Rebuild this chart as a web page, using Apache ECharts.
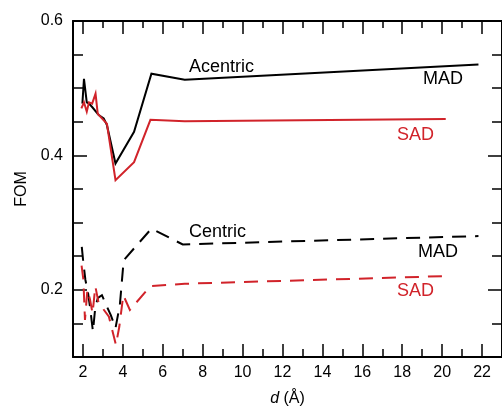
<!DOCTYPE html>
<html>
<head>
<meta charset="utf-8">
<script src="https://cdn.jsdelivr.net/npm/echarts@6/dist/echarts.min.js"></script>
<style>html,body{margin:0;padding:0;background:#fff;}#c{width:502px;height:412px;}</style>
</head>
<body>
<div id="c"></div>
<script>
// ---- data ----
const xMajorTicks = [2, 4, 6, 8, 10, 12, 14, 16, 18, 20, 22];
const xMinorTicks = [3, 5, 7, 9, 11, 13, 15, 17, 19, 21, 23];
const yMajorTicks = [0.2, 0.4, 0.6];
const yMinorTicks = [0.1, 0.15, 0.25, 0.3, 0.35, 0.45, 0.5, 0.55];

const acentricMAD = [[1.97,0.477],[2.05,0.514],[2.19,0.479],[2.30,0.477],[2.46,0.472],[2.79,0.460],[3.04,0.455],[3.20,0.445],[3.63,0.388],[4.56,0.435],[5.43,0.5215],[7.10,0.5126],[21.82,0.5354]];
const acentricSAD = [[1.92,0.470],[2.05,0.479],[2.19,0.465],[2.30,0.479],[2.46,0.477],[2.63,0.492],[2.74,0.462],[2.95,0.455],[3.20,0.447],[3.63,0.363],[4.56,0.390],[5.38,0.453],[7.10,0.451],[20.18,0.454]];
const centricMAD = [[1.94,0.264],[2.02,0.240],[2.12,0.215],[2.25,0.196],[2.35,0.175],[2.50,0.138],[2.62,0.175],[2.75,0.188],[2.95,0.192],[3.15,0.178],[3.40,0.162],[3.63,0.143],[3.85,0.178],[4.04,0.244],[5.43,0.291],[7.00,0.2675],[21.82,0.280]];
const centricSAD = [[1.93,0.236],[2.02,0.215],[2.10,0.155],[2.22,0.200],[2.35,0.186],[2.48,0.165],[2.62,0.205],[2.80,0.178],[3.00,0.172],[3.30,0.160],[3.65,0.118],[3.82,0.145],[4.02,0.192],[4.35,0.170],[5.38,0.2055],[7.10,0.209],[20.18,0.2204]];

const xAxisName = 'd';
const yAxisName = 'FOM';

// ---- chart ----
const FONT = 'Liberation Sans, Arial, Helvetica, sans-serif';
const RED = '#d1232a';
const chart = echarts.init(document.getElementById('c'), null, {renderer: 'canvas'});

function xAx(pos, ticks, len, showLine, labels) {
  return {
    type: 'value', position: pos, min: 1.5, max: 23, gridIndex: 0,
    axisLine: {show: showLine, onZero: false, lineStyle: {color: '#000', width: 2}},
    axisTick: {show: true, inside: true, length: len, customValues: ticks, lineStyle: {color: '#000', width: 1.5}},
    axisLabel: labels ? {show: true, customValues: xMajorTicks, fontSize: 16, color: '#000', fontFamily: FONT, margin: 8} : {show: false},
    splitLine: {show: false}
  };
}
function yAx(pos, ticks, len, showLine, labels) {
  return {
    type: 'value', position: pos, min: 0.1, max: 0.6, gridIndex: 0,
    axisLine: {show: showLine, onZero: false, lineStyle: {color: '#000', width: 2}},
    axisTick: {show: true, inside: true, length: len, customValues: ticks, lineStyle: {color: '#000', width: 1.5}},
    axisLabel: labels ? {show: true, customValues: yMajorTicks, fontSize: 16, color: '#000', fontFamily: FONT, margin: 10, formatter: v => v.toFixed(1)} : {show: false},
    splitLine: {show: false}
  };
}

const xa0 = xAx('bottom', xMajorTicks, 13, true, true);
xa0.name = '{i|' + xAxisName + '} (Å)';
xa0.nameLocation = 'middle';
xa0.nameGap = 34;
xa0.nameTextStyle = {fontSize: 16, color: '#000', fontFamily: FONT, rich: {i: {fontStyle: 'italic', fontSize: 16, fontFamily: FONT, color: '#000'}}};

const ya0 = yAx('left', yMajorTicks, 14, true, true);
ya0.name = yAxisName;
ya0.nameLocation = 'middle';
ya0.nameRotate = 90;
ya0.nameGap = 43;
ya0.nameTextStyle = {fontSize: 16, color: '#000', fontFamily: FONT};

const series = [
  {data: acentricMAD, color: '#000', type: 'solid'},
  {data: acentricSAD, color: RED, type: 'solid'},
  {data: centricMAD, color: '#000', type: [14, 9]},
  {data: centricSAD, color: RED, type: [14, 9]}
].map(s => ({
  type: 'line', xAxisIndex: 0, yAxisIndex: 0, data: s.data, showSymbol: false, symbol: 'none',
  lineStyle: {color: s.color, width: 2, type: s.type, join: 'miter'}, silent: true
}));

function label(text, x, y, color) {
  return {type: 'text', x: x, y: y, style: {text: text, fill: color, font: '18px ' + FONT, textVerticalAlign: 'middle', textAlign: 'left'}};
}

chart.setOption({
  animation: false,
  backgroundColor: '#fff',
  grid: {left: 73, top: 21, width: 437, height: 336, containLabel: false},
  xAxis: [
    xa0,
    xAx('bottom', xMinorTicks, 8, false, false),
    xAx('top', xMajorTicks, 13, true, false),
    xAx('top', xMinorTicks, 7, false, false)
  ],
  yAxis: [
    ya0,
    yAx('left', yMinorTicks, 10, false, false),
    yAx('right', yMajorTicks, 14, true, false),
    yAx('right', yMinorTicks, 10, false, false)
  ],
  series: series,
  graphic: [
    label('Acentric', 189, 67, '#000'),
    label('MAD', 423, 79, '#000'),
    label('SAD', 397, 135, RED),
    label('Centric', 189, 232, '#000'),
    label('MAD', 418, 252, '#000'),
    label('SAD', 397, 291, RED)
  ]
});
</script>
</body>
</html>
